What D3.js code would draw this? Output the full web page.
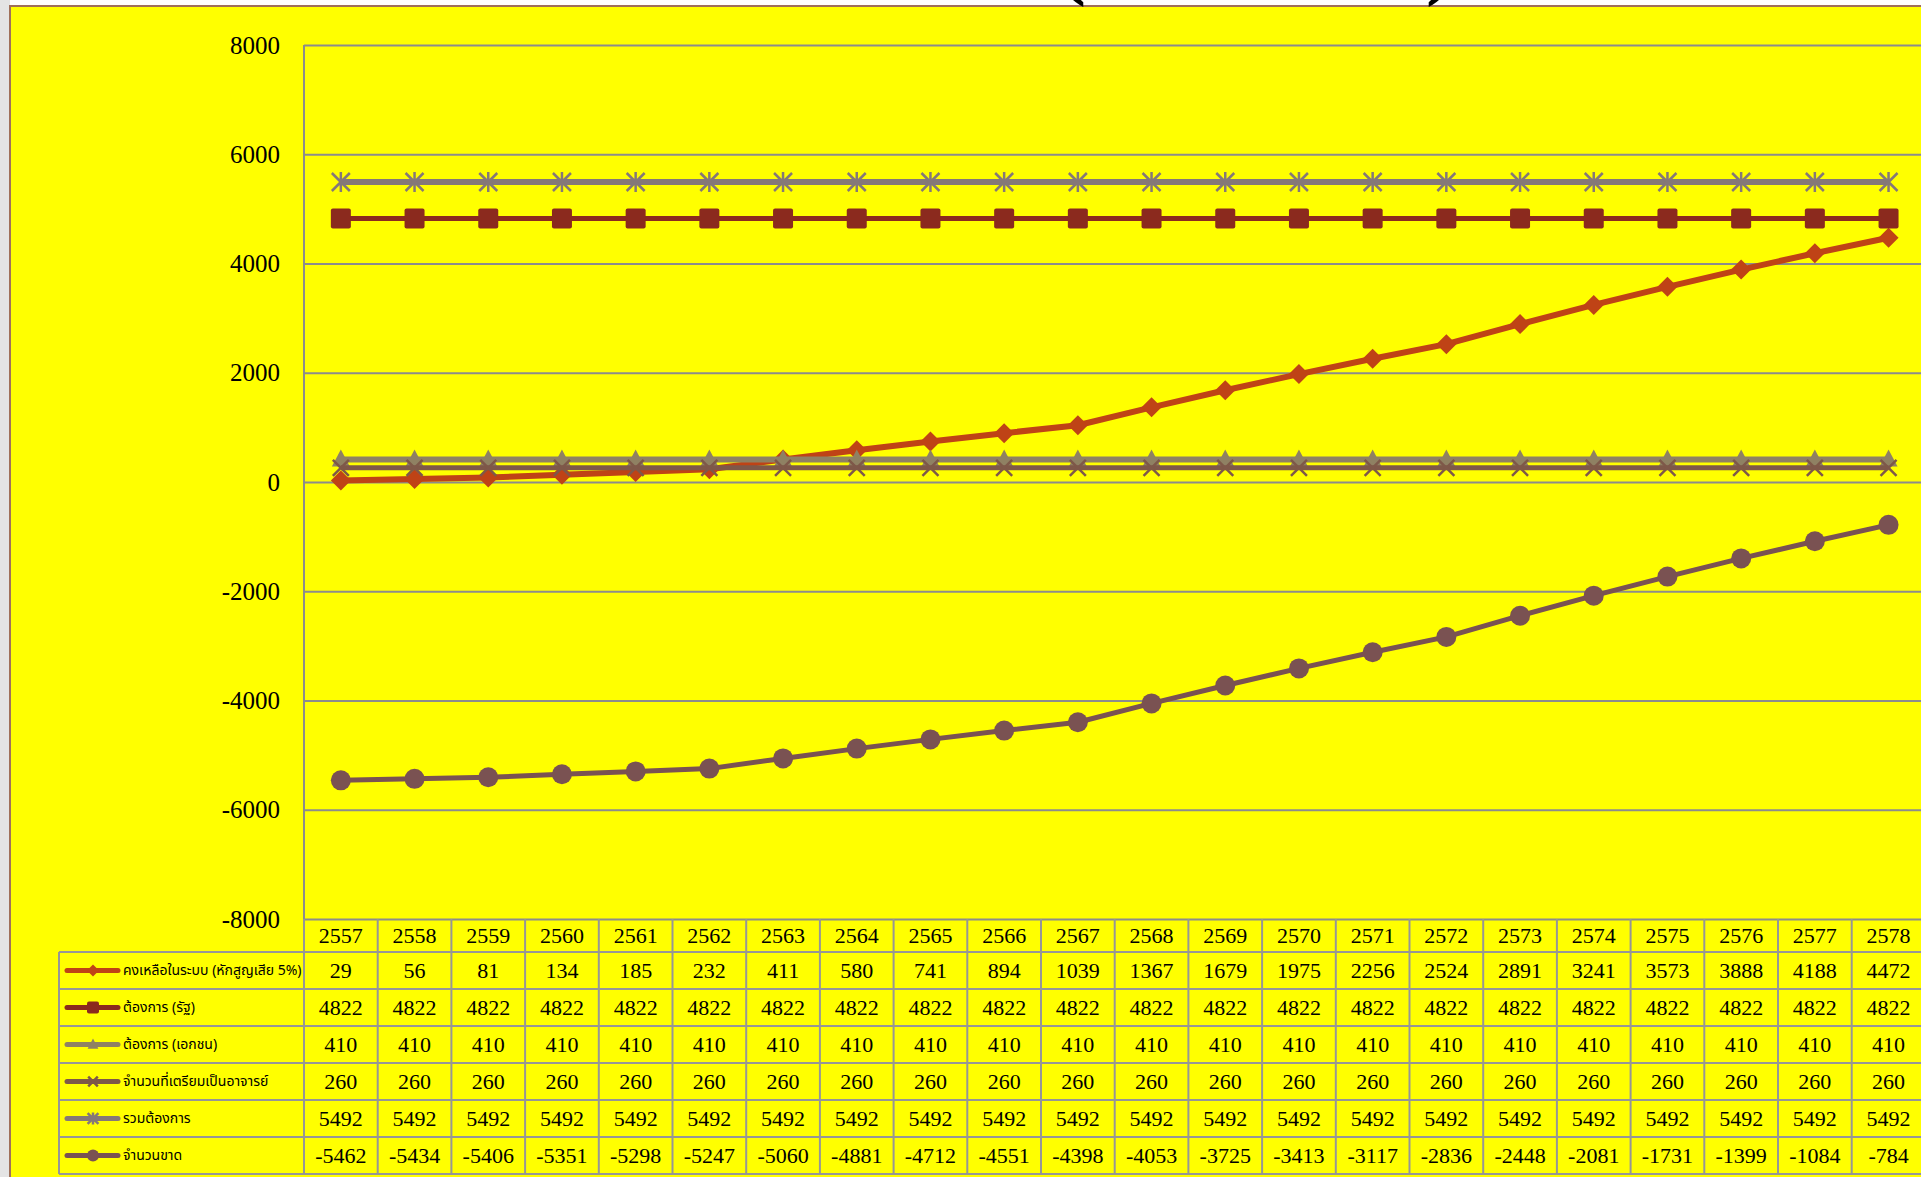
<!DOCTYPE html>
<html>
<head>
<meta charset="utf-8">
<script src="https://cdn.jsdelivr.net/npm/d3@7"></script>
<style>
  body { margin: 0; background: #fff; overflow: hidden; }
  .num { font-family: "Liberation Serif", "DejaVu Serif", serif; }
  .thai { font-family: "Noto Sans Thai", "Tahoma", "Noto Sans", sans-serif; }
</style>
</head>
<body>
<svg id="chart" width="1921" height="1177"></svg>
<script>
const years = ['2557','2558','2559','2560','2561','2562','2563','2564','2565','2566','2567',
  '2568','2569','2570','2571','2572','2573','2574','2575','2576','2577','2578'];

const remaining = [29,56,81,134,185,232,411,580,741,894,1039,1367,1679,1975,2256,2524,2891,3241,3573,3888,4188,4472];
const govNeed = [4822,4822,4822,4822,4822,4822,4822,4822,4822,4822,4822,4822,4822,4822,4822,4822,4822,4822,4822,4822,4822,4822];
const privateNeed = [410,410,410,410,410,410,410,410,410,410,410,410,410,410,410,410,410,410,410,410,410,410];
const prepared = [260,260,260,260,260,260,260,260,260,260,260,260,260,260,260,260,260,260,260,260,260,260];
const totalNeed = [5492,5492,5492,5492,5492,5492,5492,5492,5492,5492,5492,5492,5492,5492,5492,5492,5492,5492,5492,5492,5492,5492];
const shortage = [-5462,-5434,-5406,-5351,-5298,-5247,-5060,-4881,-4712,-4551,-4398,-4053,-3725,-3413,-3117,-2836,-2448,-2081,-1731,-1399,-1084,-784];

const yTicks = [-8000,-6000,-4000,-2000,0,2000,4000,6000,8000];

const seriesNames = ['คงเหลือในระบบ (หักสูญเสีย 5%)', 'ต้องการ (รัฐ)', 'ต้องการ (เอกชน)',
  'จำนวนที่เตรียมเป็นอาจารย์', 'รวมต้องการ', 'จำนวนขาด'];

const series = [
  { name: seriesNames[0], values: remaining, color: '#BF4316', width: 6, marker: 'diamond' },
  { name: seriesNames[1], values: govNeed, color: '#8B2A1E', width: 5, marker: 'square' },
  { name: seriesNames[2], values: privateNeed, color: '#8F8163', width: 6, marker: 'triangle' },
  { name: seriesNames[3], values: prepared, color: '#7E5849', width: 5, marker: 'x' },
  { name: seriesNames[4], values: totalNeed, color: '#857878', width: 6, marker: 'star' },
  { name: seriesNames[5], values: shortage, color: '#7A5252', width: 5, marker: 'circle' }
];

const svg = d3.select('#chart');

// chart area
const plotLeft = 304, plotTop = 45, plotBottom = 919, colW = 73.7;
const plotRight = plotLeft + colW * years.length;
const rowH = 37, headH = 33, legendLeft = 59;

svg.append('rect').attr('x', 0).attr('y', 0).attr('width', 10).attr('height', 1177).attr('fill', '#e4e4e4');
svg.append('rect')
  .attr('x', 10).attr('y', 6).attr('width', 1930).attr('height', 1200)
  .attr('fill', '#ffff00').attr('stroke', '#a0705a').attr('stroke-width', 2);

// title (only bottom of it visible)
const title = svg.append('g').attr('class', 'num').attr('font-weight', 'bold').attr('font-size', 84);
title.append('text').attr('x', 1072).attr('y', -11).attr('text-anchor', 'middle').text('(');
title.append('text').attr('x', 1440).attr('y', -11).attr('text-anchor', 'middle').text(')');

const x = d3.scaleBand().domain(years).range([plotLeft, plotRight]);
const y = d3.scaleLinear().domain([-8000, 8000]).range([plotBottom, plotTop]);

// gridlines + axis labels
const yAxis = svg.append('g')
  .attr('transform', `translate(${plotLeft},0)`)
  .call(d3.axisLeft(y).tickValues(yTicks).tickSize(-(plotRight - plotLeft)).tickPadding(24).tickFormat(d => String(d)));
yAxis.select('.domain').remove();
yAxis.selectAll('.tick line').attr('stroke', '#8c8c8c').attr('stroke-width', 2);
yAxis.selectAll('.tick text')
  .attr('class', 'num').attr('font-size', 25).attr('fill', '#000');

svg.append('line')
  .attr('x1', plotLeft).attr('x2', plotLeft).attr('y1', plotTop).attr('y2', plotBottom)
  .attr('stroke', '#8c8c8c').attr('stroke-width', 2);

// data table
const tbl = svg.append('g');
const tableBottom = plotBottom + headH + rowH * series.length;
x.domain().forEach(yr => {
  tbl.append('line')
    .attr('x1', x(yr) + x.bandwidth()).attr('x2', x(yr) + x.bandwidth())
    .attr('y1', plotBottom).attr('y2', tableBottom)
    .attr('stroke', '#969696').attr('stroke-width', 2);
});
tbl.append('line').attr('x1', plotLeft).attr('x2', plotLeft).attr('y1', plotBottom).attr('y2', tableBottom)
  .attr('stroke', '#969696').attr('stroke-width', 2);
tbl.append('line').attr('x1', legendLeft).attr('x2', legendLeft).attr('y1', plotBottom + headH).attr('y2', tableBottom)
  .attr('stroke', '#969696').attr('stroke-width', 2);
d3.range(series.length + 1).forEach(i => {
  tbl.append('line')
    .attr('x1', legendLeft).attr('x2', plotRight)
    .attr('y1', plotBottom + headH + i * rowH).attr('y2', plotBottom + headH + i * rowH)
    .attr('stroke', '#969696').attr('stroke-width', 2);
});

tbl.selectAll('text.year')
  .data(years)
  .enter()
  .append('text')
  .attr('class', 'num year')
  .attr('x', d => x(d) + x.bandwidth() / 2)
  .attr('y', plotBottom + headH / 2)
  .attr('dy', '0.35em')
  .attr('text-anchor', 'middle')
  .attr('font-size', 22)
  .text(d => d);

series.forEach((s, si) => {
  const cy = plotBottom + headH + si * rowH + rowH / 2;
  tbl.selectAll('text.v' + si)
    .data(s.values)
    .enter()
    .append('text')
    .attr('class', 'num v' + si)
    .attr('x', (d, i) => x(years[i]) + x.bandwidth() / 2)
    .attr('y', cy)
    .attr('dy', '0.35em')
    .attr('text-anchor', 'middle')
    .attr('font-size', 22)
    .text(d => d);
});

// marker drawing
const drawMarker = (g, type, color, scale) => {
  const k = scale || 1;
  if (type === 'diamond') {
    g.append('path').attr('d', `M0,${-10*k}L${10*k},0L0,${10*k}L${-10*k},0Z`).attr('fill', color);
  } else if (type === 'square') {
    g.append('rect').attr('x', -10*k).attr('y', -10*k).attr('width', 20*k).attr('height', 20*k)
      .attr('rx', 2).attr('fill', color);
  } else if (type === 'triangle') {
    g.append('path').attr('d', `M0,${-10*k}L${9*k},${7*k}L${-9*k},${7*k}Z`).attr('fill', color);
  } else if (type === 'x') {
    g.append('path').attr('d', `M${-8*k},${-8*k}L${8*k},${8*k}M${8*k},${-8*k}L${-8*k},${8*k}`)
      .attr('stroke', color).attr('stroke-width', 2.5);
  } else if (type === 'star') {
    g.append('path').attr('d', `M0,${-10*k}L0,${10*k}M${-9*k},${-9*k}L${9*k},${9*k}M${9*k},${-9*k}L${-9*k},${9*k}`)
      .attr('stroke', color).attr('stroke-width', 2.5);
  } else if (type === 'circle') {
    g.append('circle').attr('r', 10*k).attr('fill', color);
  }
};

// lines
const line = d3.line()
  .x((d, i) => x(years[i]) + x.bandwidth() / 2)
  .y(d => y(d));

series.forEach(s => {
  const g = svg.append('g');
  g.append('path')
    .datum(s.values)
    .attr('d', line)
    .attr('fill', 'none')
    .attr('stroke', s.color)
    .attr('stroke-width', s.width)
    .attr('stroke-linejoin', 'round');
  s.values.forEach((v, i) => {
    const m = g.append('g').attr('transform', `translate(${x(years[i]) + x.bandwidth() / 2},${y(v)})`);
    drawMarker(m, s.marker, s.color, 1);
  });
});

// legend keys in table
series.forEach((s, si) => {
  const cy = plotBottom + headH + si * rowH + rowH / 2;
  const g = svg.append('g');
  g.append('line').attr('x1', 67).attr('x2', 118).attr('y1', cy).attr('y2', cy)
    .attr('stroke', s.color).attr('stroke-width', 5).attr('stroke-linecap', 'round');
  const m = g.append('g').attr('transform', `translate(93,${cy})`);
  drawMarker(m, s.marker, s.color, 0.6);
  g.append('text')
    .attr('class', 'thai')
    .attr('x', 123).attr('y', cy).attr('dy', '0.35em')
    .attr('font-size', 14)
    .text(s.name);
});
</script>
</body>
</html>
